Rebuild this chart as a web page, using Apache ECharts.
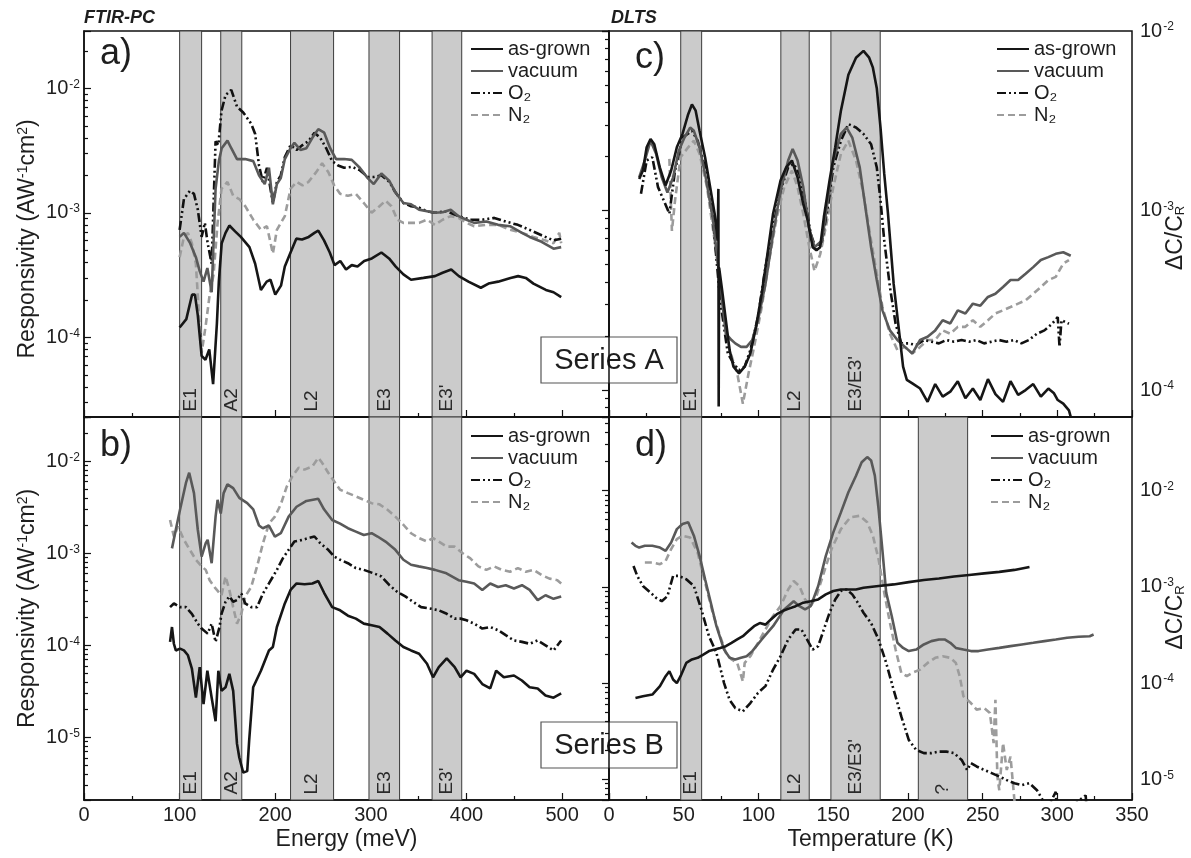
<!DOCTYPE html>
<html>
<head>
<meta charset="utf-8">
<title>FTIR-PC / DLTS responsivity</title>
<script src="https://cdn.jsdelivr.net/npm/echarts@6/dist/echarts.min.js"></script>
<style>
  html, body { margin: 0; background: #fff; }
  #chart { width: 1191px; height: 858px; }
</style>
</head>
<body>
<div id="chart"></div>
<script>
// ---- data: [energy meV | temperature K, value] ----
const seriesNames = ['as-grown', 'vacuum', 'O₂', 'N₂'];

// a) FTIR-PC, series A
const aAsGrown = [[100,1.2e-4],[107,1.4e-4],[113,2.2e-4],[116,2.2e-4],[119,1.5e-4],[123,7.1e-5],[127,6.6e-5],[131,8.0e-5],[135,4.2e-5],[139,1.3e-4],[141,2.8e-4],[144,5.7e-4],[148,6.9e-4],[152,7.9e-4],[158,7.1e-4],[164,6.4e-4],[173,5.3e-4],[179,3.9e-4],[185,2.4e-4],[191,2.8e-4],[195,2.9e-4],[200,2.2e-4],[206,2.6e-4],[210,3.7e-4],[216,4.8e-4],[222,6.2e-4],[228,6.1e-4],[235,6.4e-4],[241,6.9e-4],[245,7.2e-4],[251,6.0e-4],[257,4.8e-4],[262,3.8e-4],[268,4.1e-4],[274,3.5e-4],[280,3.8e-4],[286,3.7e-4],[293,4.1e-4],[301,4.3e-4],[311,4.8e-4],[319,4.3e-4],[326,3.7e-4],[334,3.2e-4],[342,2.9e-4],[355,3.0e-4],[367,3.1e-4],[375,3.3e-4],[384,3.5e-4],[392,3.1e-4],[402,2.8e-4],[415,2.5e-4],[423,2.7e-4],[433,2.8e-4],[446,3.0e-4],[454,3.1e-4],[462,3.0e-4],[470,2.7e-4],[483,2.4e-4],[491,2.3e-4],[499,2.1e-4]];
const aVacuum = [[100,6.4e-4],[104.5,6.9e-4],[111,5.7e-4],[117,4.4e-4],[121,3.4e-4],[125,2.8e-4],[129,3.6e-4],[133.5,2.3e-4],[137.6,1.56e-3],[141,2.6e-3],[144,3.3e-3],[150,3.8e-3],[154,3.3e-3],[160,2.7e-3],[168.6,2.7e-3],[177,2.6e-3],[183,2.0e-3],[189,1.7e-3],[193.4,2.3e-3],[197.5,1.17e-3],[201.7,1.7e-3],[205.8,1.9e-3],[210,2.7e-3],[216,3.3e-3],[220,3.65e-3],[226.4,3.2e-3],[232.6,3.3e-3],[238.8,4.0e-3],[245,4.7e-3],[251.2,4.4e-3],[257.4,3.3e-3],[263.6,2.7e-3],[272,2.7e-3],[280,2.66e-3],[288.4,2.3e-3],[296.7,1.9e-3],[303,1.7e-3],[311,2.07e-3],[319.4,1.8e-3],[325.6,1.46e-3],[334,1.2e-3],[342,1.17e-3],[350.4,1.06e-3],[358.7,1.03e-3],[367,1.0e-3],[375,1.01e-3],[383.5,1.06e-3],[391.7,9.4e-4],[400,8.8e-4],[408,8.3e-4],[420.7,8.5e-4],[433,8.0e-4],[445.5,7.8e-4],[458,6.9e-4],[466,6.4e-4],[478.5,5.85e-4],[491,5.15e-4],[499,5.3e-4]];
const aO2 = [[100,7.3e-4],[104.5,1.29e-3],[110.7,1.5e-3],[115,1.42e-3],[119,1.06e-3],[123,6.4e-4],[126.4,8.3e-4],[129.3,5.7e-4],[133.5,3.9e-4],[137.6,3.76e-3],[140.5,3.5e-3],[143.8,6.6e-3],[148,8.8e-3],[154,9.7e-3],[160,7.1e-3],[166.5,6.4e-3],[174.8,5.2e-3],[179,4.3e-3],[183,2.4e-3],[187,1.77e-3],[191.3,2.3e-3],[197.5,1.2e-3],[201.7,1.77e-3],[205.8,2.0e-3],[210,2.8e-3],[216,3.5e-3],[222.3,3.2e-3],[228.5,3.5e-3],[234.7,3.76e-3],[241,4.4e-3],[247,4.0e-3],[253.3,3.3e-3],[259.5,2.6e-3],[265.7,2.4e-3],[272,2.3e-3],[280,2.34e-3],[288.4,2.2e-3],[296.7,1.94e-3],[303,1.94e-3],[311,2.0e-3],[319.4,1.77e-3],[325.6,1.46e-3],[334,1.2e-3],[342,1.13e-3],[350.4,1.1e-3],[358.7,1.03e-3],[367,1.0e-3],[379,1.03e-3],[391.7,9.4e-4],[404,8.8e-4],[416.5,8.8e-4],[429,9.1e-4],[441,8.5e-4],[453.7,8.0e-4],[466,7.3e-4],[478.5,6.6e-4],[491,6.0e-4],[499,6.2e-4]];
const aN2 = [[100,4.4e-4],[104.5,6.4e-4],[108.7,6.9e-4],[112.8,5.7e-4],[117,3.9e-4],[120,1.6e-4],[123,7.5e-5],[127.3,1.25e-4],[131.4,2.2e-4],[135.5,3.2e-4],[139.7,8.3e-4],[143.8,1.56e-3],[150,1.77e-3],[156,1.37e-3],[162.4,1.29e-3],[168.6,1.13e-3],[177,8.8e-4],[185,7.3e-4],[191.3,7.8e-4],[197.5,4.7e-4],[201.7,7.3e-4],[210,9.4e-4],[216,1.56e-3],[222.3,1.77e-3],[228.5,1.66e-3],[234.7,1.77e-3],[243,2.13e-3],[249,2.5e-3],[255.4,2.13e-3],[261.6,1.66e-3],[267.8,1.42e-3],[276,1.37e-3],[284.3,1.42e-3],[292.6,1.2e-3],[300.8,1.0e-3],[309,1.13e-3],[315.3,1.25e-3],[321.5,1.13e-3],[327.7,8.8e-4],[334,8.3e-4],[350.4,8.3e-4],[358.7,8.8e-4],[367,8.0e-4],[375,8.8e-4],[383.5,9.4e-4],[391.7,9.1e-4],[400,8.3e-4],[408,7.8e-4],[420.7,8.0e-4],[433,8.0e-4],[445.5,7.3e-4],[458,6.9e-4],[470,6.4e-4],[482.6,6.0e-4],[491,5.7e-4],[497,6.9e-4],[499,5.7e-4]];

// b) FTIR-PC, series B
const bAsGrown = [[90,1.09e-4],[92,1.58e-4],[94,1.04e-4],[96,8.8e-5],[100.4,9.2e-5],[104.5,8.8e-5],[108.7,7.8e-5],[112.8,5.6e-5],[117,2.7e-5],[121,5.8e-5],[125,2.3e-5],[129,5.3e-5],[133.5,2.7e-5],[137.6,1.5e-5],[140.5,5.3e-5],[143.8,3.2e-5],[148,3.5e-5],[152,4.9e-5],[156,3.2e-5],[160,8.5e-6],[162.4,6.05e-6],[166.5,4.15e-6],[170.7,4.3e-6],[172.7,9.2e-6],[176.9,3.5e-5],[185,5.3e-5],[193.4,8.8e-5],[197.5,9.6e-5],[201.7,1.58e-4],[210,2.85e-4],[216,4.0e-4],[222.3,4.7e-4],[230.6,4.6e-4],[238.8,4.7e-4],[245,5.0e-4],[251.2,3.7e-4],[259.5,2.6e-4],[267.8,2.4e-4],[276,2.1e-4],[284.3,1.95e-4],[292.6,1.72e-4],[300.8,1.65e-4],[309,1.58e-4],[317.4,1.34e-4],[325.6,1.13e-4],[334,9.6e-5],[342,8.8e-5],[350.4,8.1e-5],[358.7,6.3e-5],[365,4.5e-5],[371,5.8e-5],[379.3,7.2e-5],[387.6,5.8e-5],[393.8,4.5e-5],[400,5.3e-5],[408,4.9e-5],[416.5,3.8e-5],[424.8,3.4e-5],[431,5.3e-5],[439,4.5e-5],[449.6,4.7e-5],[457.9,4.15e-5],[466,3.5e-5],[474.4,3.4e-5],[482.6,2.85e-5],[491,2.7e-5],[499,3.0e-5]];
const bVacuum = [[92,1.13e-3],[96,1.8e-3],[100.4,2.97e-3],[106.6,5.8e-3],[110,7.5e-3],[115,4.5e-3],[119,1.8e-3],[123,9.2e-4],[127.3,1.29e-3],[129.3,1.4e-3],[133.5,7.8e-4],[137.6,2.5e-3],[139.7,3.8e-3],[143,2.7e-3],[146,4.5e-3],[150,5.6e-3],[156,5.1e-3],[162.4,4.0e-3],[170.7,3.5e-3],[177,3.0e-3],[183,2.0e-3],[187,1.87e-3],[193.4,2.0e-3],[199.6,1.52e-3],[205.8,1.65e-3],[214,2.5e-3],[222.3,3.2e-3],[232.6,3.7e-3],[245,3.9e-3],[251,3.0e-3],[259.5,2.3e-3],[267.8,2.1e-3],[276,1.87e-3],[284.3,1.72e-3],[292.6,1.58e-3],[300.8,1.65e-3],[307,1.52e-3],[315.3,1.34e-3],[325.6,1.09e-3],[334,8.5e-4],[342,7.5e-4],[350,7.2e-4],[358.7,6.9e-4],[367,6.6e-4],[379,6.05e-4],[391.7,5.1e-4],[400,4.9e-4],[408,4.7e-4],[416.5,4.0e-4],[424.8,4.7e-4],[433,4.3e-4],[441,4.5e-4],[449.6,4.15e-4],[458,4.5e-4],[466,4.0e-4],[474.4,3.1e-4],[482.6,3.5e-4],[491,3.2e-4],[499,3.4e-4]];
const bO2 = [[90,2.6e-4],[94,2.85e-4],[100.4,2.6e-4],[106.6,2.6e-4],[112.8,2.2e-4],[119,1.72e-4],[123,1.52e-4],[129.3,1.34e-4],[133.5,1.72e-4],[137.6,1.09e-4],[141.7,1.58e-4],[143.8,2.2e-4],[148,2.97e-4],[152,3.4e-4],[156,2.97e-4],[160,3.1e-4],[164.5,3.66e-4],[168.6,2.85e-4],[174.8,2.6e-4],[181,2.6e-4],[187.2,3.66e-4],[193.4,4.7e-4],[201.7,6.6e-4],[207.9,8.8e-4],[214,1.09e-3],[220,1.34e-3],[228.5,1.4e-3],[234.7,1.46e-3],[241,1.52e-3],[247,1.29e-3],[255.4,1.09e-3],[261.6,9.2e-4],[267.8,8.5e-4],[276,7.8e-4],[284.3,6.9e-4],[292.6,6.6e-4],[303,6.05e-4],[311,5.6e-4],[319.4,4.5e-4],[327.7,3.8e-4],[336,3.4e-4],[344,2.97e-4],[352.5,2.6e-4],[362.8,2.5e-4],[371,2.4e-4],[379.3,2.2e-4],[387.6,1.95e-4],[393.8,1.95e-4],[400,1.87e-4],[408,1.72e-4],[416.5,1.52e-4],[424.8,1.58e-4],[433,1.46e-4],[441,1.29e-4],[449.6,1.13e-4],[458,1.09e-4],[466,1.04e-4],[474.4,1.13e-4],[482.6,1.0e-4],[491,8.8e-5],[499,1.13e-4]];
const bN2 = [[90,2.3e-3],[94,1.52e-3],[98.3,1.95e-3],[104.5,1.4e-3],[110.7,1.09e-3],[117,8.5e-4],[123,7.2e-4],[127.3,6.6e-4],[131.4,5.1e-4],[137.6,4.15e-4],[143.8,3.5e-4],[148,5.6e-4],[152,4.0e-4],[156,2.6e-4],[160,1.72e-4],[164.5,2.2e-4],[168.6,3.4e-4],[174.8,4.3e-4],[181,7.2e-4],[187.2,1.29e-3],[193.4,2.1e-3],[199.6,2.5e-3],[205.8,3.4e-3],[212,5.3e-3],[218,6.9e-3],[224.4,8.5e-3],[230.6,8.1e-3],[238.8,8.8e-3],[245,1.09e-2],[249,9.6e-3],[255.4,7.5e-3],[261.6,6.05e-3],[267.8,4.9e-3],[276,4.5e-3],[284.3,4.15e-3],[292.6,3.8e-3],[300.8,3.5e-3],[309,3.4e-3],[317.4,2.97e-3],[325.6,2.5e-3],[334,2.04e-3],[342,1.65e-3],[350.4,1.46e-3],[358.7,1.34e-3],[365,1.46e-3],[371,1.34e-3],[379.3,1.18e-3],[387.6,1.18e-3],[396,1.0e-3],[404,8.8e-4],[412.4,7.2e-4],[420.7,6.6e-4],[429,7.2e-4],[437,6.6e-4],[445.5,6.3e-4],[453.7,6.9e-4],[462,6.3e-4],[470,6.6e-4],[478.5,5.8e-4],[486.8,5.3e-4],[495,5.1e-4],[499,4.7e-4]];

// c) DLTS, series A
const cAsGrown = [[20.2,1.5e-3],[22.7,1.67e-3],[25.2,2.25e-3],[27.8,2.5e-3],[30.3,2.34e-3],[34,1.74e-3],[37.8,1.38e-3],[41.6,1.67e-3],[45.4,2.25e-3],[49.2,2.67e-3],[53,3.44e-3],[55.5,3.9e-3],[58,3.6e-3],[60.6,2.78e-3],[64.3,1.98e-3],[68.1,1.29e-3],[70.7,9.6e-4],[72.7,6.8e-4],[73.2,1.32e-3],[73.4,8.1e-5],[73.7,4.8e-4],[75.7,3.6e-4],[78.2,2.45e-4],[80.7,1.67e-4],[83.3,1.35e-4],[87,1.24e-4],[90.8,1.35e-4],[94.6,1.6e-4],[98.4,2.25e-4],[102.2,3.44e-4],[106,5.7e-4],[109.8,9.6e-4],[114.8,1.47e-3],[118.6,1.74e-3],[122.4,1.9e-3],[126.2,1.53e-3],[130,1.09e-3],[133,8.8e-4],[136.3,6.25e-4],[138.8,6.0e-4],[141.3,6.25e-4],[143.8,9.2e-4],[147.6,1.47e-3],[151.4,2.25e-3],[155.2,3.6e-3],[160.2,5.7e-3],[165.3,7.1e-3],[170.3,7.75e-3],[174.1,7.1e-3],[176.6,6.25e-3],[179.2,4.8e-3],[181.7,2.9e-3],[184.2,1.6e-3],[186.7,9.6e-4],[190.5,3.9e-4],[194.3,2.06e-4],[196.8,1.35e-4],[199.3,1.14e-4],[203,1.09e-4],[208.2,1.02e-4],[213.2,8.6e-5],[218.3,1.08e-4],[223.3,9.2e-5],[228.4,9.8e-5],[233.4,1.12e-4],[238.5,9.0e-5],[243.5,1.02e-4],[248.5,8.8e-5],[253.6,1.15e-4],[258.6,9.5e-5],[263.7,8.6e-5],[268.7,1.12e-4],[273.8,9.4e-5],[278.8,1.0e-4],[283.9,1.08e-4],[289,9.2e-5],[294,1.02e-4],[297.8,9.6e-5],[300.3,8.8e-5],[304,8.4e-5],[307.8,7.7e-5],[309,7.1e-5]];
const cVacuum = [[20.2,1.53e-3],[24,1.9e-3],[27.8,2.45e-3],[31.5,2.07e-3],[35.3,1.53e-3],[39.1,1.26e-3],[42.9,1.53e-3],[46.7,2.15e-3],[50.5,2.55e-3],[54.3,2.9e-3],[56.8,2.78e-3],[60.6,2.25e-3],[64.3,1.6e-3],[69.4,9.2e-4],[74.4,3.9e-4],[78.2,2.06e-4],[82,1.9e-4],[84.5,1.82e-4],[88.3,1.74e-4],[92.1,1.74e-4],[95.9,1.9e-4],[99.7,2.45e-4],[104.7,3.9e-4],[109.8,7.4e-4],[114.8,1.29e-3],[119.9,1.9e-3],[122.9,2.2e-3],[126.2,1.9e-3],[130,1.35e-3],[133.7,8.1e-4],[137.5,6.25e-4],[142.6,6.8e-4],[146.4,1.14e-3],[150.1,1.9e-3],[155.2,2.67e-3],[159,2.9e-3],[162.8,2.55e-3],[167.8,1.74e-3],[171.6,1.04e-3],[175.4,6.25e-4],[179.2,4.1e-4],[183,2.78e-4],[188,2.15e-4],[193,1.9e-4],[198,1.74e-4],[203,1.6e-4],[208.2,1.9e-4],[213.2,1.98e-4],[218.3,2.15e-4],[223.3,2.45e-4],[228.4,2.35e-4],[233.4,2.78e-4],[238.5,2.67e-4],[243.5,3.03e-4],[248.5,2.95e-4],[253.6,3.3e-4],[258.6,3.44e-4],[263.7,3.75e-4],[268.7,4.1e-4],[273.8,4.1e-4],[278.8,4.45e-4],[283.9,4.84e-4],[289,5.3e-4],[294,5.5e-4],[299,5.74e-4],[304,5.86e-4],[309,5.6e-4]];
const cO2 = [[21.4,1.24e-3],[25.2,1.9e-3],[29,1.98e-3],[32.8,1.35e-3],[36.6,1.14e-3],[40.4,9.6e-4],[44.2,1.67e-3],[49.2,2.55e-3],[55.5,2.78e-3],[59.3,2.45e-3],[64.3,1.74e-3],[69.4,9.2e-4],[74.4,3.16e-4],[79.5,1.6e-4],[83.3,1.41e-4],[87,1.29e-4],[90.8,1.35e-4],[94.6,1.67e-4],[99.7,2.55e-4],[104.7,4.84e-4],[109.8,8.1e-4],[114.8,1.29e-3],[119.9,1.74e-3],[123.6,1.82e-3],[127.4,1.6e-3],[131.2,1.14e-3],[135,7.4e-4],[138.8,6.0e-4],[142.6,6.8e-4],[146.4,1.04e-3],[150.1,1.74e-3],[155.2,2.45e-3],[160.2,3.03e-3],[165.3,2.9e-3],[170.3,2.67e-3],[175.4,2.34e-3],[179.2,1.74e-3],[181.7,1.14e-3],[184.2,6.8e-4],[188,3.75e-4],[191.8,2.34e-4],[195.6,1.82e-4],[200.6,1.82e-4],[205.6,1.78e-4],[210.7,1.9e-4],[215.7,1.86e-4],[220.8,1.82e-4],[225.8,1.9e-4],[230.9,1.86e-4],[236,1.9e-4],[241,1.86e-4],[246,1.9e-4],[251,1.82e-4],[256,1.86e-4],[261,1.9e-4],[266,1.86e-4],[271,1.9e-4],[276,1.82e-4],[281,1.9e-4],[286.4,2.06e-4],[291.4,2.15e-4],[296.5,2.34e-4],[300.3,2.55e-4],[301.5,1.74e-4],[302.8,2.45e-4],[307.8,2.34e-4]];
const cN2 = [[40.4,1.94e-3],[42.1,7.7e-4],[44.2,1.14e-3],[47.9,1.98e-3],[53,2.25e-3],[56.8,2.45e-3],[60.6,2.07e-3],[65.6,1.35e-3],[70.7,6.8e-4],[75.7,3.16e-4],[80.7,1.67e-4],[85.8,1.24e-4],[89.6,8.4e-5],[93.4,1.24e-4],[97.1,1.74e-4],[102.2,2.9e-4],[107.2,5.3e-4],[112.3,9.2e-4],[117.3,1.35e-3],[122.4,1.67e-3],[126.2,1.35e-3],[130,9.6e-4],[133.7,6.5e-4],[137.5,4.6e-4],[141.3,5.7e-4],[145.1,8.1e-4],[150.1,1.35e-3],[155.2,2.07e-3],[160.2,2.45e-3],[165.3,1.9e-3],[170.3,1.24e-3],[175.4,6.8e-4],[179.2,4.45e-4],[183,2.9e-4],[188,2.06e-4],[193,1.67e-4],[198,1.74e-4],[203,1.6e-4],[208.2,1.74e-4],[213.2,1.9e-4],[218.3,1.9e-4],[223.3,2.15e-4],[228.4,2.06e-4],[233.4,2.25e-4],[238.5,2.25e-4],[243.5,2.45e-4],[248.5,2.25e-4],[253.6,2.45e-4],[258.6,2.67e-4],[263.7,2.78e-4],[268.7,2.9e-4],[273.8,3.03e-4],[278.8,3.16e-4],[283.9,3.44e-4],[289,3.75e-4],[294,4.1e-4],[299,4.27e-4],[304,5.06e-4],[307.8,5.3e-4]];

// d) DLTS, series B
const dAsGrown = [[17.7,7.0e-5],[22.7,7.3e-5],[29,7.6e-5],[34.1,9.3e-5],[37.9,1.18e-4],[40.4,1.33e-4],[42.9,1.09e-4],[45.4,1.0e-4],[47.9,1.18e-4],[51.7,1.62e-4],[55.5,1.76e-4],[59.3,1.83e-4],[63.1,1.98e-4],[66.9,2.15e-4],[70.7,2.23e-4],[74.4,2.32e-4],[78.2,2.42e-4],[82,2.62e-4],[85.8,2.84e-4],[89.6,3.07e-4],[93.4,3.47e-4],[97.1,3.9e-4],[100.9,4.2e-4],[104.7,4.05e-4],[108.5,4.6e-4],[112.3,5.2e-4],[116.1,5.6e-4],[119.9,5.9e-4],[124.9,6.3e-4],[130,6.85e-4],[135,7.1e-4],[140,7.4e-4],[145.1,8.35e-4],[150.1,9.05e-4],[155.2,9.4e-4],[160.2,9.4e-4],[165.3,9.4e-4],[170.3,9.8e-4],[180.4,1.02e-3],[190.5,1.06e-3],[200.6,1.12e-3],[210.7,1.18e-3],[220.8,1.22e-3],[230.9,1.28e-3],[241,1.33e-3],[251.1,1.38e-3],[261.2,1.43e-3],[271.3,1.5e-3],[281.4,1.61e-3]];
const dVacuum = [[15.1,2.89e-3],[17.7,2.67e-3],[20.2,2.56e-3],[24,2.67e-3],[29,2.67e-3],[34.1,2.56e-3],[37.9,2.37e-3],[41.6,2.89e-3],[45.4,3.98e-3],[49.2,4.49e-3],[53,4.68e-3],[56.8,3.4e-3],[60.6,2.1e-3],[64.3,1.2e-3],[68.1,6.85e-4],[71.9,3.9e-4],[77,2.23e-4],[80.7,1.83e-4],[84.5,1.76e-4],[88.3,1.83e-4],[92.1,1.9e-4],[95.9,2.15e-4],[102.2,2.84e-4],[109.8,3.9e-4],[117.3,5.83e-4],[123.6,7.1e-4],[127.4,6.3e-4],[131.2,5.83e-4],[135,6.3e-4],[140,1.02e-3],[145.1,2.1e-3],[150.1,3.68e-3],[155.2,5.94e-3],[160.2,9.6e-3],[165.3,1.43e-2],[169.1,1.97e-2],[172.8,2.23e-2],[175.4,2.06e-2],[177.9,1.43e-2],[180.4,6.44e-3],[182.9,2.47e-3],[185.5,8.7e-4],[189.2,4.98e-4],[193,2.62e-4],[196.8,2.32e-4],[200.6,2.15e-4],[205.6,2.23e-4],[210.7,2.52e-4],[215.7,2.73e-4],[220.8,2.84e-4],[224.6,2.84e-4],[228.4,2.62e-4],[232.1,2.32e-4],[237.2,2.23e-4],[242.2,2.15e-4],[247.3,2.15e-4],[253.6,2.23e-4],[261.2,2.32e-4],[268.7,2.42e-4],[276.3,2.52e-4],[283.9,2.62e-4],[291.4,2.73e-4],[299,2.84e-4],[306.6,2.96e-4],[314.2,3.03e-4],[321.7,3.07e-4],[324.3,3.2e-4]];
const dO2 = [[16.4,1.65e-3],[18.9,1.3e-3],[22.7,1.02e-3],[27.8,8.7e-4],[31.5,7.7e-4],[35.3,7.1e-4],[39.1,8.0e-4],[42.9,1.3e-3],[46.7,1.3e-3],[51.7,1.2e-3],[56.8,1.02e-3],[61.8,5.83e-4],[66.9,3.07e-4],[71.9,2.06e-4],[77,1.0e-4],[80.7,6.7e-5],[84.5,5.5e-5],[89.6,5.08e-5],[94.6,6.2e-5],[99.7,7.9e-5],[104.7,9.3e-5],[109.8,1.38e-4],[114.8,1.9e-4],[119.9,2.84e-4],[124.9,3.61e-4],[128.7,3.61e-4],[132.5,2.84e-4],[136.3,2.23e-4],[140,2.42e-4],[143.8,3.61e-4],[147.6,5.38e-4],[151.4,7.4e-4],[155.2,9.05e-4],[159,9.4e-4],[162.8,8.35e-4],[166.5,6.85e-4],[170.3,5.38e-4],[175.4,4.2e-4],[180.4,2.84e-4],[185.5,1.62e-4],[190.5,8.5e-5],[195.6,4.5e-5],[200.6,2.57e-5],[205.6,2.02e-5],[210.7,1.87e-5],[215.7,1.87e-5],[220.8,1.94e-5],[225.8,1.94e-5],[230.9,1.87e-5],[236,1.59e-5],[239.7,1.25e-5],[242.2,1.47e-5],[246,1.36e-5],[251.1,1.25e-5],[256.1,1.16e-5],[261.2,1.07e-5],[266.2,9.8e-6],[271.3,9.1e-6],[276.3,8.7e-6],[281.4,9.1e-6],[286.4,7.7e-6],[290.2,6.1e-6],[292.7,4.8e-6],[299,7.4e-6],[300,4.0e-6],[319,6.8e-6],[320,4.0e-6]];
const dN2 = [[24,1.79e-3],[29,1.79e-3],[34.1,1.72e-3],[37.9,1.86e-3],[41.6,2.47e-3],[45.4,3.13e-3],[49.2,3.4e-3],[54.3,3.26e-3],[59.3,2.27e-3],[64.3,1.11e-3],[69.4,5.38e-4],[74.4,3.07e-4],[78.2,2.06e-4],[82,1.76e-4],[85.8,1.62e-4],[89.6,1.04e-4],[90.8,1.62e-4],[94.6,1.9e-4],[99.7,2.62e-4],[104.7,3.6e-4],[109.8,4.98e-4],[114.8,6.3e-4],[119.9,9.4e-4],[123.6,1.15e-3],[127.4,1.02e-3],[131.2,7.4e-4],[135,6.3e-4],[138.8,8.0e-4],[143.8,1.41e-3],[148.9,2.47e-3],[155.2,3.98e-3],[161.5,5.27e-3],[167.8,5.48e-3],[172.8,4.68e-3],[176.6,3.4e-3],[180.4,1.94e-3],[184.2,8.7e-4],[188,4.24e-4],[191.8,2.23e-4],[195.6,1.28e-4],[199.3,1.18e-4],[203.1,1.28e-4],[208.2,1.38e-4],[213.2,1.62e-4],[218.3,1.83e-4],[223.3,1.9e-4],[228.4,1.83e-4],[232.1,1.62e-4],[234.7,1.18e-4],[237.2,7.3e-5],[239.7,6.7e-5],[242.2,6.2e-5],[246,5.3e-5],[251.1,5.5e-5],[254.9,4.9e-5],[257.4,2.38e-5],[258.6,6.7e-5],[259.9,1.07e-5],[261.2,7.7e-6],[263.7,2.38e-5],[266.2,1.25e-5],[268.7,1.72e-5],[271.3,6.1e-6],[272.5,3.2e-6]];

// shaded bands: [label, from, to]
const energyBands = [['E1', 100, 123], ['A2', 143, 165], ['L2', 216, 261], ['E3', 298, 330], ["E3'", 364, 395]];
const tempBandsA = [['E1', 48, 62], ['L2', 115, 134], ["E3/E3'", 148.5, 181.5]];
const tempBandsB = [['E1', 48, 62], ['L2', 115, 134], ["E3/E3'", 148.5, 181.5], ['?', 207, 240]];

const panelData = [
  [aAsGrown, aVacuum, aO2, aN2],
  [bAsGrown, bVacuum, bO2, bN2],
  [cAsGrown, cVacuum, cO2, cN2],
  [dAsGrown, dVacuum, dO2, dN2]
];
const panelBands = [energyBands, energyBands, tempBandsA, tempBandsB];

// ---- chart ----
const FONT = '"Liberation Sans", Arial, Helvetica, sans-serif';
const INK = '#1e1e1e';
const lineLook = {
  'as-grown': { color: '#161616', type: 'solid' },
  'vacuum': { color: '#595959', type: 'solid' },
  'O₂': { color: '#111111', type: [9, 3, 2, 3, 2, 3] },
  'N₂': { color: '#9c9c9c', type: [7, 4] }
};

const chart = echarts.init(document.getElementById('chart'), null, { renderer: 'canvas' });

const grids = [
  { left: 84, top: 31, width: 525, height: 386 },
  { left: 84, top: 417, width: 525, height: 383 },
  { left: 609, top: 31, width: 523, height: 386 },
  { left: 609, top: 417, width: 523, height: 383 }
].map(g => Object.assign(g, { show: true, borderColor: '#111', borderWidth: 1.5, backgroundColor: 'transparent', containLabel: false, outerBoundsMode: 'none' }));

function powLabel(v) {
  const l = Math.log10(v);
  const e = Math.round(l);
  if (Math.abs(l - e) > 1e-6) return '';
  return '{b|10}{s|' + e + '}';
}
const powRich = {
  b: { fontSize: 20, fontFamily: FONT, color: INK },
  s: { fontSize: 12, fontFamily: FONT, color: INK, verticalAlign: 'top', padding: [0, 0, 0, 1] }
};

function xAxis(i, max, step, name) {
  return {
    type: 'value', gridIndex: i, min: 0, max: max, interval: step,
    name: name, nameLocation: 'middle', nameGap: 28,
    nameTextStyle: { fontSize: 23, fontFamily: FONT, color: INK },
    axisLine: { show: true, onZero: false, lineStyle: { color: '#111', width: 1.5 } },
    axisTick: { show: true, inside: true, length: 7, lineStyle: { color: '#111', width: 1.2 } },
    minorTick: { show: true, splitNumber: 2, length: 4, lineStyle: { color: '#111', width: 1.2 } },
    axisLabel: { show: !!name, margin: 5, fontSize: 20, fontFamily: FONT, color: INK, showMaxLabel: max === 350 },
    splitLine: { show: false }
  };
}
function yAxis(i, lo, hi, side) {
  const ax = {
    type: 'log', logBase: 10, gridIndex: i, position: side,
    min: Math.pow(10, lo), max: Math.pow(10, hi),
    nameMoveOverlap: false,
    axisLine: { show: true, lineStyle: { color: '#111', width: 1.5 } },
    axisTick: { show: true, inside: true, length: 7, lineStyle: { color: '#111', width: 1.2 } },
    minorTick: { show: true, splitNumber: 9, length: 4, lineStyle: { color: '#111', width: 1.2 } },
    axisLabel: { formatter: powLabel, rich: powRich, margin: side === 'left' ? 4 : 8 },
    splitLine: { show: false }, minorSplitLine: { show: false }
  };
  if (side === 'left') {
    ax.name = '{n|Responsivity (AW}{s|-1}{n|cm}{s|2}{n|)}';
    ax.nameLocation = 'middle'; ax.nameGap = 45; ax.nameRotate = 90;
    ax.nameTextStyle = { padding: i === 0 ? [0, 30, 0, 0] : 0, rich: {
      n: { fontSize: 23, fontFamily: FONT, color: INK },
      s: { fontSize: 14, fontFamily: FONT, color: INK, verticalAlign: 'top' } } };
  } else {
    ax.name = '{n|ΔC/C}{r|R}';
    ax.nameLocation = 'middle'; ax.nameGap = 32; ax.nameRotate = 90;
    ax.nameTextStyle = { padding: i === 2 ? [0, 28, 0, 0] : [0, 18, 0, 0], rich: {
      n: { fontSize: 23, fontFamily: FONT, color: INK },
      r: { fontSize: 13, fontFamily: FONT, color: INK, verticalAlign: 'bottom' } } };
  }
  return ax;
}

const series = [];
panelData.forEach((curves, p) => {
  // band shading drawn under the curves
  series.push({
    type: 'line', xAxisIndex: p, yAxisIndex: p, data: [], z: 1, silent: true,
    markArea: {
      silent: true, z: 1,
      itemStyle: { color: '#cbcbcb', borderColor: '#3c3c3c', borderWidth: 1 },
      label: { show: true, position: 'insideBottom', distance: 6, rotate: 90,
               align: 'left', verticalAlign: 'middle',
               color: '#2a2a2a', fontSize: 19, fontFamily: FONT },
      data: panelBands[p].map(b => [{ name: b[0], xAxis: b[1] }, { xAxis: b[2] }])
    }
  });
  curves.forEach((pts, k) => {
    const nm = seriesNames[k];
    series.push({
      type: 'line', name: nm, xAxisIndex: p, yAxisIndex: p, data: pts,
      symbol: 'none', showSymbol: false, smooth: false, clip: true, z: 5 - k,
      itemStyle: { color: lineLook[nm].color },
      lineStyle: { color: lineLook[nm].color, width: 2.6, type: lineLook[nm].type }
    });
  });
});

const legendPos = [[470, 39], [470, 426], [996, 39], [990, 426]];
const legends = legendPos.map(pos => ({
  left: pos[0], top: pos[1], orient: 'vertical', padding: 0,
  itemWidth: 32, itemHeight: 2, itemGap: 2, selectedMode: false,
  itemStyle: { opacity: 0 },
  textStyle: { fontSize: 20, lineHeight: 17, fontFamily: FONT, color: INK },
  data: seriesNames
}));

const tagStyle = { fontSize: 36, fontWeight: 'normal', fontFamily: FONT, color: INK };
const headStyle = { fontSize: 18, fontWeight: 'bold', fontStyle: 'italic', fontFamily: FONT, color: INK };

function seriesBox(label, x, y) {
  return {
    type: 'group', x: x, y: y, z: 100,
    children: [
      { type: 'rect', shape: { x: 0, y: 0, width: 136, height: 46 },
        style: { fill: '#fff', stroke: '#555', lineWidth: 1.2 } },
      { type: 'text', x: 68, y: 24,
        style: { text: label, fill: INK, font: '29px ' + FONT, align: 'center', verticalAlign: 'middle' } }
    ]
  };
}

chart.setOption({
  animation: false,
  backgroundColor: '#fff',
  title: [
    { text: 'FTIR-PC', left: 84, top: 9, padding: 0, textStyle: headStyle },
    { text: 'DLTS', left: 611, top: 9, padding: 0, textStyle: headStyle },
    { text: 'a)', left: 100, top: 36, padding: 0, textStyle: tagStyle },
    { text: 'b)', left: 100, top: 428, padding: 0, textStyle: tagStyle },
    { text: 'c)', left: 635, top: 40, padding: 0, textStyle: tagStyle },
    { text: 'd)', left: 635, top: 428, padding: 0, textStyle: tagStyle }
  ],
  legend: legends,
  grid: grids,
  xAxis: [xAxis(0, 549, 100, ''), xAxis(1, 549, 100, 'Energy (meV)'),
          xAxis(2, 350, 50, ''), xAxis(3, 350, 50, 'Temperature (K)')],
  yAxis: [yAxis(0, -4.64, -1.54, 'left'), yAxis(1, -5.68, -1.52, 'left'),
          yAxis(2, -4.15, -2, 'right'), yAxis(3, -5.215, -1.235, 'right')],
  series: series,
  graphic: [seriesBox('Series A', 541, 337), seriesBox('Series B', 541, 722)]
});
</script>
</body>
</html>
